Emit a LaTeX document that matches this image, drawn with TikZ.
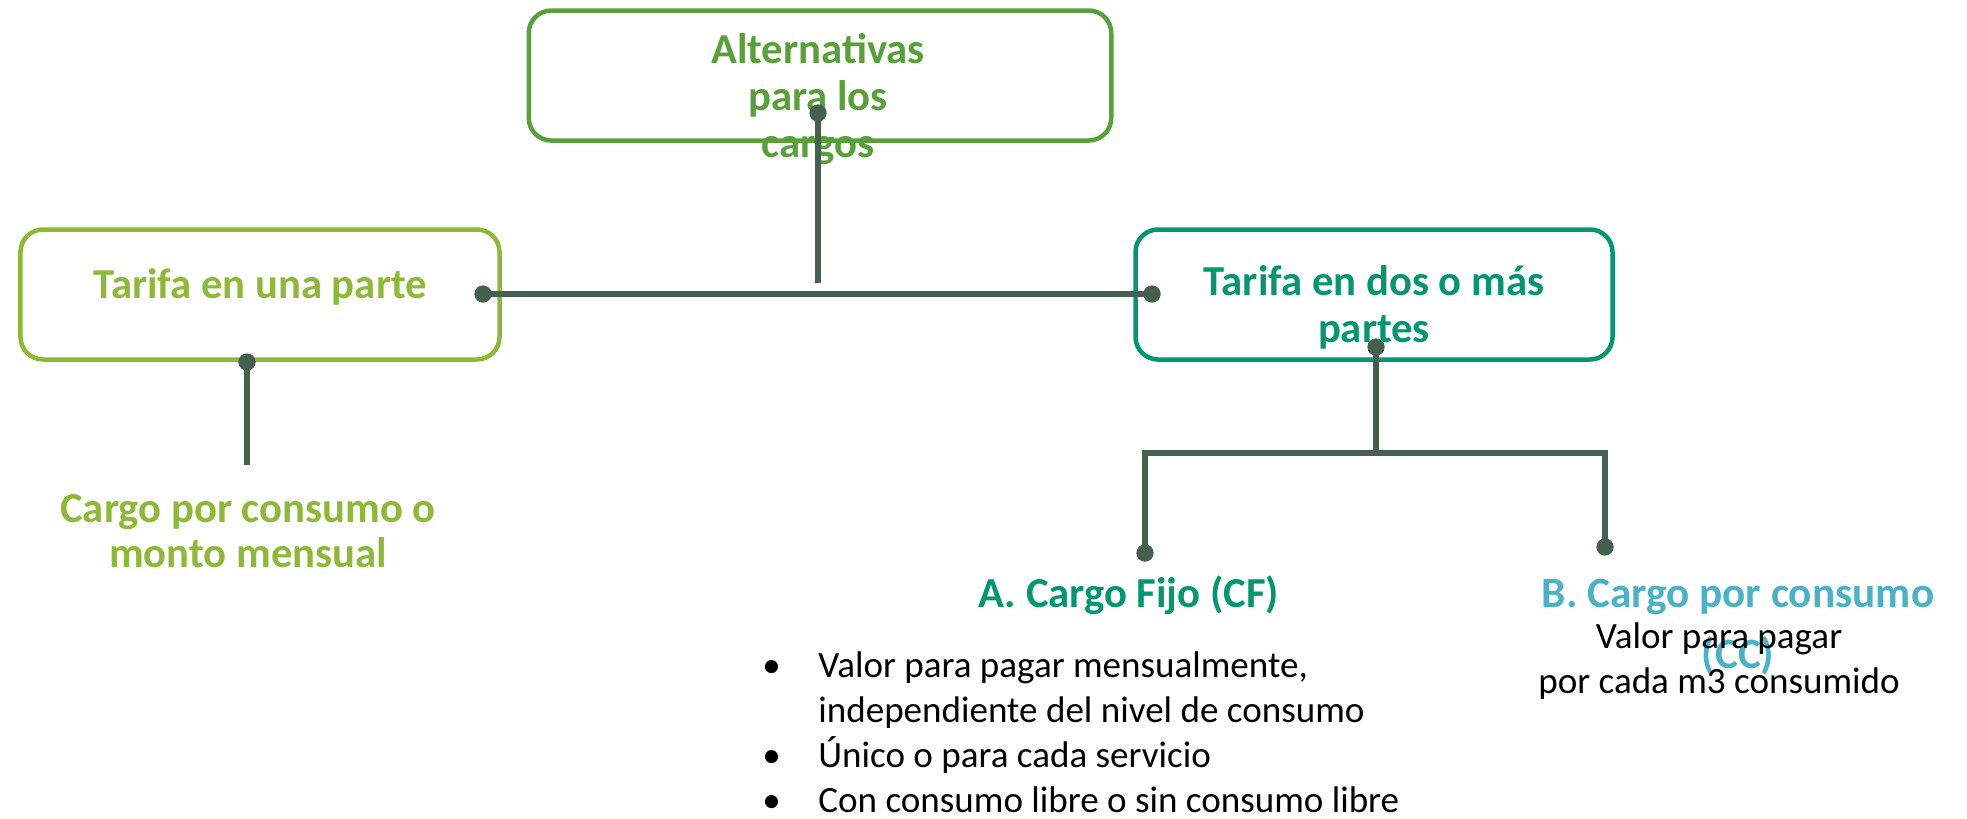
\documentclass[tikz,border=0pt]{standalone}
\usepackage{fontspec}
\setmainfont{Carlito}
\usepackage{tikz}
\usetikzlibrary{positioning,calc}
\definecolor{altgreen}{RGB}{89,160,58}
\definecolor{onegreen}{RGB}{141,185,54}
\definecolor{twoteal}{RGB}{4,150,112}
\definecolor{cccyan}{RGB}{75,178,197}
\definecolor{linkgray}{RGB}{69,95,81}
\newcommand{\bul}{\makebox[1.12cm][l]{•}}
\newcommand{\nobul}{\hspace{1.12cm}}
\tikzset{
partbox/.style={rectangle, rounded corners=0.45cm, line width=0.09cm, minimum height=2.6cm, inner sep=0pt},
head/.style={font=\bfseries\fontsize{24.3}{26.2}\selectfont, align=center, anchor=base, inner sep=0pt},
plain/.style={font=\fontsize{21.1}{25.6}\selectfont, inner sep=0pt},
joint/.style={circle, fill=linkgray, inner sep=0pt, minimum size=0.34cm},
link/.style={draw=linkgray, line width=0.11cm},
}
\begin{document}
\begin{tikzpicture}
    \useasboundingbox (0,0) rectangle (39.34,-16.36);

    \node[partbox, draw=altgreen, minimum width=11.65cm] (ALT_BOX) at(16.40, -1.51)  {};
    \node[partbox, draw=onegreen, minimum width=9.58cm] (ONE_BOX) at(5.20, -5.89)  {};
    \node[partbox, draw=twoteal, minimum width=9.54cm] (TWO_BOX) at(27.48, -5.89)  {};

    \node[head, text=altgreen, font=\bfseries\fontsize{24.3}{26.7}\selectfont] (ALT_TXT) at(16.36, -3.14)  {Alternativas\\para los\\cargos};
    \node[head, text=onegreen] (ONE_TXT) at(5.20, -5.96)  {Tarifa en una parte};
    \node[head, text=twoteal] (TWO_TXT) at(27.48, -6.84)  {Tarifa en dos o más\\partes};

    \node[head, text=onegreen, font=\bfseries\fontsize{24.3}{25.6}\selectfont] (ONE_SUB) at(4.96, -11.34)  {Cargo por consumo o\\monto mensual};
    \node[head, text=twoteal] (CF_TXT) at(22.58, -12.14)  {A. Cargo Fijo (CF)};
    \node[head, text=cccyan, font=\bfseries\fontsize{24.6}{34.7}\selectfont] (CC_TXT) at(34.76, -13.36)  {B. Cargo por consumo\\(CC)};

    \node[plain, align=center, anchor=base] (CC_NOTE) at(34.38, -13.86)  {Valor para pagar\\por cada m3 consumido};
    \node[plain, align=left, anchor=base west] (CF_LIST) at(15.24, -16.24)  {\bul Valor para pagar mensualmente,\\\nobul independiente del nivel de consumo\\\bul Único o para cada servicio\\\bul Con consumo libre o sin consumo libre};

    \node[joint] (ALT_DOT) at(16.36, -2.26)  {};
    \node[joint] (ONE_DOT_R) at(9.66, -5.88)  {};
    \node[joint] (ONE_DOT_B) at(4.94, -7.24)  {};
    \node[joint] (TWO_DOT_L) at(23.04, -5.88)  {};
    \node[joint] (TWO_DOT_B) at(27.52, -6.94)  {};
    \node[joint] (CF_DOT) at(22.90, -11.06)  {};
    \node[joint] (CC_DOT) at(32.10, -10.94)  {};

    \coordinate (ALT_END) at(16.36, -5.66);
    \coordinate (ONE_END) at(4.94, -9.30);
    \coordinate (SPLIT) at(27.52, -9.06);

    \draw[link] (ALT_DOT.center)  to (ALT_END) ;
    \draw[link] (ONE_DOT_R.center)  to (TWO_DOT_L.center) ;
    \draw[link] (ONE_DOT_B.center)  to (ONE_END) ;
    \draw[link] (TWO_DOT_B.center)  to (SPLIT) ;
    \draw[link] (CF_DOT.center)  |- (SPLIT)  -| (CC_DOT.center) ;

    \foreach \d in {ALT_DOT, ONE_DOT_R, ONE_DOT_B, TWO_DOT_L, TWO_DOT_B, CF_DOT, CC_DOT}
        \fill[linkgray] (\d) circle (0.17cm);
\end{tikzpicture}
\end{document}
